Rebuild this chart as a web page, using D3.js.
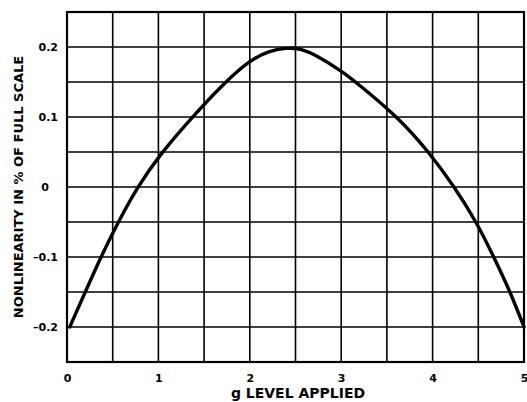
<!DOCTYPE html>
<html>
<head>
<meta charset="utf-8">
<script src="https://cdn.jsdelivr.net/npm/d3@7"></script>
<style>
  body { margin: 0; background: #fff; }
  svg { display: block; }
  text { font-family: "DejaVu Sans", "Liberation Sans", Arial, sans-serif; font-weight: bold; fill: #000; }
</style>
</head>
<body>
<svg id="chart"></svg>
<script>
// values
var gLevel = [0.03, 0.2, 0.37, 0.56, 0.77, 1.02, 1.37, 1.73, 2.0, 2.2, 2.4, 2.55, 2.73, 3.0, 3.16, 3.62, 3.96, 4.24, 4.48, 4.67, 4.85, 5.0];
var nonlin = [-0.2, -0.15, -0.1, -0.05, 0, 0.047, 0.1, 0.15, 0.181, 0.194, 0.199, 0.198, 0.188, 0.166, 0.15, 0.1, 0.05, 0, -0.05, -0.1, -0.15, -0.2];
var xTicks = [0, 1, 2, 3, 4, 5];
var yTicks = [-0.2, -0.1, 0, 0.1, 0.2];
var xGrid = d3.range(0, 5.01, 0.5);
var yGrid = d3.range(-0.25, 0.2501, 0.05);

var W = 527, H = 402;
var margin = {top: 12, right: 3, bottom: 40, left: 67};

var svg = d3.select('#chart')
    .attr("width", W)
    .attr("height", H);

var x = d3.scaleLinear().domain([0, 5]).range([margin.left, W - margin.right]);
var y = d3.scaleLinear().domain([-0.25, 0.25]).range([H - margin.bottom, margin.top]);

// grid
svg.append("g")
    .selectAll("line")
    .data(xGrid)
    .join("line")
    .attr("x1", d => x(d)).attr("x2", d => x(d))
    .attr("y1", y(-0.25)).attr("y2", y(0.25))
    .attr("stroke", "#000").attr("stroke-width", 1.6);

svg.append("g")
    .selectAll("line")
    .data(yGrid)
    .join("line")
    .attr("y1", d => y(d)).attr("y2", d => y(d))
    .attr("x1", x(0)).attr("x2", x(5))
    .attr("stroke", "#000").attr("stroke-width", 1.6);

// frame
svg.append("rect")
    .attr("x", x(0)).attr("y", y(0.25))
    .attr("width", x(5) - x(0)).attr("height", y(-0.25) - y(0.25))
    .attr("fill", "none").attr("stroke", "#000").attr("stroke-width", 2.2);

// curve
var xy = gLevel.map((g, i) => ({x: g, y: nonlin[i]}));
svg.append("path")
    .datum(xy)
    .attr("fill", "none")
    .attr("stroke", "#000")
    .attr("stroke-width", 3.4)
    .attr("stroke-linecap", "round")
    .attr("d", d3.line().curve(d3.curveBasis)
        .x(d => x(d.x))
        .y(d => y(d.y)));

// x axis labels
svg.append("g")
    .attr("transform", "translate(0," + (y(-0.25) + 9) + ")")
    .call(d3.axisBottom(x).tickValues(xTicks).tickSize(0).tickFormat(d3.format("d")))
    .call(g => g.select(".domain").remove())
    .selectAll("text")
    .style("font-size", "11px");

// y axis labels
svg.append("g")
    .attr("transform", "translate(" + (x(0) - 6) + ",0)")
    .call(d3.axisLeft(y).tickValues(yTicks).tickSize(0)
        .tickFormat(d => d === 0 ? "0" : (d < 0 ? "\u2013" : "") + Math.abs(d).toFixed(1)))
    .call(g => g.select(".domain").remove())
    .selectAll("text")
    .style("font-size", "11px")
    .attr("dx", d => d === 0 ? "-9" : "0");

// axis titles
svg.append("text")
    .attr("x", 298)
    .attr("y", 398)
    .attr("text-anchor", "middle")
    .style("font-size", "14px")
    .text("g LEVEL APPLIED");

svg.append("text")
    .attr("transform", "translate(23," + y(0) + ") rotate(-90)")
    .attr("text-anchor", "middle")
    .style("font-size", "13px")
    .text("NONLINEARITY IN % OF FULL SCALE");
</script>
</body>
</html>
